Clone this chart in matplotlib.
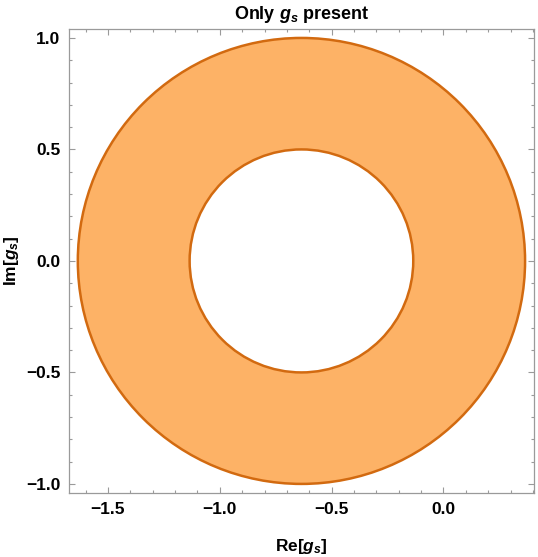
import matplotlib
matplotlib.use("Agg")
import matplotlib.pyplot as plt
from matplotlib.patches import Wedge, Circle
from matplotlib.ticker import MultipleLocator

# Data: annulus region for g_s
center_re = -0.635
center_im = 0.0
outer_radius = 1.0
inner_radius = 0.5
x_ticks = [-1.5, -1.0, -0.5, 0.0]
y_ticks = [-1.0, -0.5, 0.0, 0.5, 1.0]

plt.rcParams['font.family'] = ['Liberation Sans', 'DejaVu Sans']
plt.rcParams['mathtext.fontset'] = 'custom'
plt.rcParams['mathtext.it'] = 'Liberation Sans:italic:bold'
plt.rcParams['mathtext.rm'] = 'Liberation Sans:bold'

fill_color = '#FDB266'
edge_color = '#D26A10'
frame_color = '#9a9a9a'

fig = plt.figure(figsize=(5.38, 5.57), dpi=100)
ax = fig.add_axes([0.128, 0.1144, 0.8646, 0.8343])

ax.add_patch(Wedge((center_re, center_im), outer_radius, 0, 360,
                   width=outer_radius - inner_radius,
                   facecolor=fill_color, edgecolor='none', zorder=2))
ax.add_patch(Circle((center_re, center_im), outer_radius, fill=False,
                    edgecolor=edge_color, lw=1.8, zorder=3))
ax.add_patch(Circle((center_re, center_im), inner_radius, fill=False,
                    edgecolor=edge_color, lw=1.8, zorder=3))

ax.set_xlim(-1.675, 0.405)
ax.set_ylim(-1.042, 1.042)

ax.set_xticks(x_ticks)
ax.set_yticks(y_ticks)
ax.set_xticklabels([f"{v:.1f}".replace('-', '\u2212') for v in x_ticks])
ax.set_yticklabels([f"{v:.1f}".replace('-', '\u2212') for v in y_ticks])
ax.xaxis.set_minor_locator(MultipleLocator(0.1))
ax.yaxis.set_minor_locator(MultipleLocator(0.1))
ax.tick_params(which='both', direction='in', top=True, right=True,
               color=frame_color, width=0.8)
ax.tick_params(which='major', length=4.5, labelsize=12.5, pad=6)
ax.tick_params(which='minor', length=2.5)
for lab in ax.get_xticklabels() + ax.get_yticklabels():
    lab.set_fontweight('bold')
for s in ax.spines.values():
    s.set_color(frame_color)
    s.set_linewidth(0.9)

ax.set_xlabel(r'Re[$g_s$]', fontsize=12.5, fontweight='bold')
ax.set_ylabel(r'Im[$g_s$]', fontsize=12.5, fontweight='bold')
ax.xaxis.set_label_coords(0.5, -0.094)
ax.yaxis.set_label_coords(-0.102, 0.5)
ax.set_title(r'Only $g_s$ present', fontsize=13, fontweight='bold', pad=7)

fig.savefig('out.png', dpi=100)
